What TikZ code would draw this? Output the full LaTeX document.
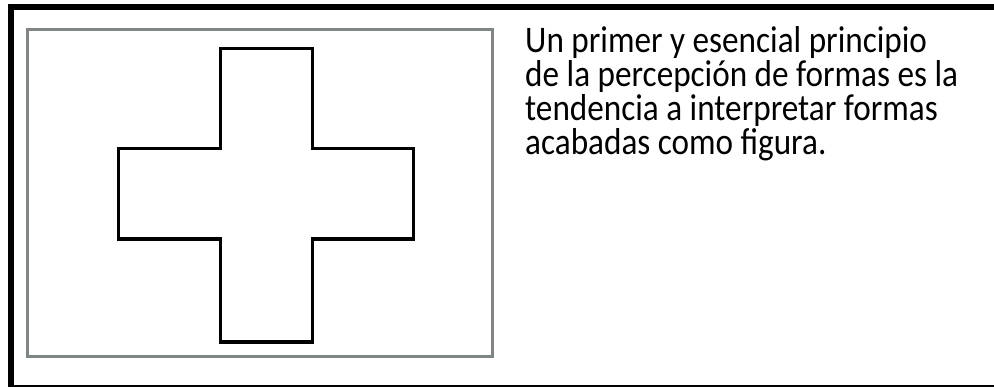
\documentclass[tikz,border=0pt]{standalone}
\usepackage{fontspec}
\setmainfont{Carlito}[FakeStretch=0.885]
\usepackage{tikz}
\usetikzlibrary{positioning}

\begin{document}
\begin{tikzpicture}[
    x=1pt, y=-1pt,
    frame/.style = {draw=black, line width=6pt},
    panel/.style = {draw={rgb,255:red,128;green,133;blue,133}, line width=3pt},
    figure/.style = {draw=black, line width=3.5pt, line join=miter},
    caption/.style = {anchor=base west, inner sep=0pt, align=left,
                      font={\fontsize{37.5}{34}\selectfont}}
  ]

  \useasboundingbox (0,0) rectangle (994,387);

  % Outer frame
  \draw[frame] (11,7) rectangle (997,388);

  % Grey panel holding the figure
  \node[panel, minimum width=464.5pt, minimum height=326.5pt, inner sep=0pt,
        anchor=north west] (panel) at (26,28.5) {};

  % The cross
  \draw[figure] (220.5,48.5) -- (312.5,48.5) -- (312.5,148.3)
    -- (413.5,148.3) -- (413.5,239) -- (312.5,239) -- (312.5,342)
    -- (220.5,342) -- (220.5,239) -- (118.3,239) -- (118.3,148.3)
    -- (220.5,148.3) -- cycle;

  % Caption to the right of the panel (base = last line)
  \node[caption] (text) at (525,155) {
    Un primer y esencial principio\\
    de la percepción de formas es la\\
    tendencia a interpretar formas\\
    acabadas como figura.
  };

\end{tikzpicture}
\end{document}
